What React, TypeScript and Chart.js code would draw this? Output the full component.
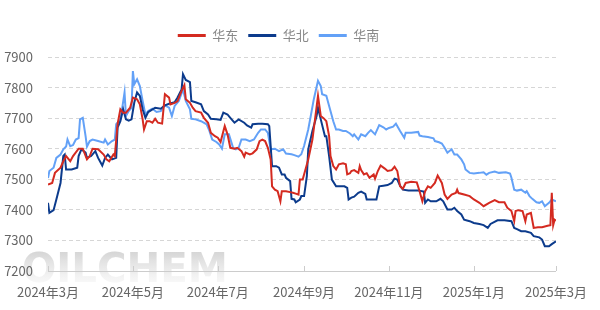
import React, { useEffect, useRef } from 'react';
import { Chart, registerables } from 'chart.js';

Chart.register(...registerables);

const FONT = "'Noto Sans CJK SC', 'Noto Sans', sans-serif";

// x axis: days since 2024-03-01
const tickDays = [0, 61, 122, 184, 245, 306, 365];
const tickLabels = ['2024年3月', '2024年5月', '2024年7月', '2024年9月', '2024年11月', '2025年1月', '2025年3月'];
const seriesNames = ['华东', '华北', '华南'];
const watermarkText = 'OILCHEM';

const eastDays = [
  0, 3, 5, 9, 11, 13, 16, 18, 22, 25,
  28, 30, 32, 36, 40, 42, 44, 47, 48, 50,
  52, 54, 56, 59, 61, 64, 66, 68, 69, 71,
  73, 75, 77, 79, 82, 84, 87, 88, 91, 93,
  96, 98, 99, 102, 104, 106, 110, 112, 115, 117,
  120, 122, 124, 127, 129, 131, 134, 136, 139, 141,
  142, 145, 147, 150, 152, 154, 156, 158, 160, 161,
  163, 165, 167, 168, 171, 174, 176, 178, 180, 181,
  183, 185, 187, 190, 192, 194, 196, 198, 200, 202,
  203, 205, 207, 209, 212, 214, 215, 217, 218, 220,
  223, 224, 225, 227, 229, 231, 234, 235, 237, 239,
  242, 244, 247, 249, 251, 253, 255, 257, 261, 265,
  267, 269, 271, 273, 275, 278, 280, 283, 285, 287,
  290, 293, 294, 295, 299, 303, 306, 310, 313, 317,
  321, 324, 328, 330, 333, 335, 336, 338, 341, 343,
  344, 347, 349, 352, 355, 359, 361, 362, 363, 364,
  365,
];
const eastValues = [
  7483, 7488, 7521, 7538, 7559, 7576, 7559, 7576, 7600, 7600,
  7565, 7576, 7600, 7598, 7581, 7565, 7559, 7581, 7576, 7680,
  7729, 7718, 7718, 7734, 7767, 7762, 7745, 7696, 7663, 7690,
  7690, 7685, 7698, 7685, 7682, 7778, 7767, 7745, 7750, 7755,
  7789, 7808, 7762, 7750, 7734, 7723, 7718, 7701, 7685, 7652,
  7641, 7636, 7622, 7674, 7647, 7603, 7600, 7603, 7592, 7574,
  7587, 7581, 7585, 7598, 7625, 7630, 7625, 7603, 7565, 7477,
  7466, 7461, 7428, 7461, 7461, 7458, 7456, 7453, 7450, 7499,
  7499, 7532, 7565, 7630, 7701, 7773, 7707, 7700, 7690, 7641,
  7576, 7543, 7532, 7549, 7552, 7549, 7516, 7520, 7527, 7530,
  7521, 7543, 7530, 7516, 7520, 7505, 7516, 7502, 7527, 7545,
  7535, 7527, 7530, 7541, 7527, 7477, 7469, 7488, 7492, 7490,
  7461, 7428, 7461, 7477, 7472, 7488, 7512, 7488, 7450, 7436,
  7450, 7455, 7466, 7455, 7450, 7445, 7434, 7423, 7412, 7423,
  7432, 7425, 7425, 7407, 7396, 7363, 7396, 7399, 7396, 7363,
  7385, 7390, 7341, 7343, 7343, 7348, 7350, 7456, 7350, 7368,
  7365,
];

const northDays = [
  0, 1, 4, 6, 9, 11, 12, 13, 17, 21,
  22, 24, 27, 28, 31, 34, 36, 39, 41, 43,
  46, 49, 50, 52, 54, 56, 58, 60, 62, 64,
  66, 68, 70, 72, 77, 81, 84, 87, 91, 93,
  96, 97, 99, 102, 103, 106, 110, 112, 115, 117,
  121, 124, 126, 129, 131, 134, 137, 141, 143, 146,
  147, 151, 154, 158, 159, 161, 164, 166, 168, 170,
  171, 174, 175, 177, 178, 181, 182, 184, 186, 187,
  190, 193, 194, 196, 199, 200, 202, 204, 207, 209,
  213, 215, 216, 218, 220, 223, 225, 228, 229, 232,
  236, 238, 241, 244, 247, 249, 251, 253, 255, 259,
  262, 266, 270, 271, 273, 275, 279, 282, 284, 287,
  290, 292, 294, 297, 299, 303, 306, 310, 313, 316,
  318, 323, 328, 333, 335, 337, 340, 343, 347, 349,
  353, 355, 357, 360, 362, 365,
];
const northValues = [
  7423, 7390, 7399, 7434, 7488, 7576, 7581, 7532, 7532, 7538,
  7576, 7598, 7587, 7570, 7576, 7592, 7570, 7545, 7570, 7581,
  7565, 7570, 7669, 7690, 7729, 7696, 7692, 7696, 7751, 7784,
  7773, 7729, 7701, 7720, 7734, 7731, 7742, 7747, 7752, 7767,
  7794, 7844, 7825, 7818, 7756, 7752, 7745, 7723, 7712, 7698,
  7696, 7694, 7718, 7712, 7701, 7685, 7696, 7685, 7676, 7669,
  7680, 7682, 7682, 7680, 7674, 7543, 7543, 7538, 7516, 7516,
  7505, 7494, 7436, 7434, 7425, 7434, 7445, 7445, 7510, 7598,
  7658, 7707, 7734, 7696, 7641, 7641, 7576, 7499, 7477, 7477,
  7477, 7472, 7434, 7440, 7443, 7456, 7460, 7452, 7434, 7434,
  7434, 7477, 7479, 7481, 7488, 7502, 7499, 7479, 7466, 7463,
  7463, 7463, 7460, 7423, 7434, 7428, 7428, 7436, 7428, 7401,
  7401, 7407, 7396, 7385, 7368, 7363, 7357, 7354, 7350, 7341,
  7354, 7366, 7366, 7363, 7341, 7337, 7330, 7330, 7325, 7314,
  7310, 7303, 7281, 7281, 7288, 7297,
];

const southDays = [
  0, 1, 4, 6, 9, 11, 13, 14, 16, 18,
  20, 22, 23, 25, 27, 28, 30, 32, 36, 40,
  41, 43, 46, 48, 49, 52, 53, 55, 56, 58,
  60, 61, 62, 64, 66, 68, 70, 72, 75, 78,
  81, 84, 87, 89, 91, 94, 97, 99, 102, 103,
  106, 110, 114, 116, 118, 121, 123, 125, 127, 130,
  133, 135, 137, 139, 142, 145, 148, 151, 153, 156,
  158, 160, 163, 166, 169, 171, 175, 177, 180, 182,
  184, 187, 189, 191, 194, 196, 197, 200, 202, 205,
  207, 209, 212, 214, 217, 219, 220, 223, 225, 228,
  230, 232, 235, 238, 241, 243, 245, 248, 250, 253,
  256, 257, 261, 266, 267, 269, 273, 277, 278, 281,
  283, 285, 287, 290, 292, 294, 297, 299, 300, 303,
  306, 310, 313, 315, 317, 321, 324, 329, 332, 333,
  335, 337, 340, 343, 344, 346, 348, 351, 353, 355,
  357, 360, 362, 365,
];
const southValues = [
  7504, 7527, 7538, 7570, 7581, 7598, 7607, 7630, 7608, 7612,
  7630, 7635, 7696, 7701, 7641, 7607, 7625, 7630, 7625, 7620,
  7630, 7614, 7625, 7630, 7680, 7696, 7723, 7784, 7707, 7723,
  7734, 7854, 7811, 7827, 7805, 7756, 7712, 7723, 7731, 7720,
  7723, 7742, 7734, 7707, 7740, 7756, 7794, 7756, 7729, 7698,
  7696, 7690, 7680, 7658, 7630, 7622, 7614, 7600, 7647, 7647,
  7603, 7598, 7603, 7630, 7630, 7625, 7630, 7652, 7663, 7663,
  7652, 7598, 7600, 7592, 7598, 7584, 7582, 7579, 7574, 7582,
  7609, 7663, 7712, 7762, 7822, 7805, 7778, 7773, 7740, 7690,
  7663, 7663, 7658, 7658, 7650, 7641, 7647, 7630, 7647, 7641,
  7652, 7661, 7647, 7677, 7670, 7663, 7668, 7672, 7682, 7658,
  7636, 7652, 7652, 7655, 7643, 7641, 7638, 7634, 7625, 7621,
  7617, 7603, 7587, 7598, 7581, 7581, 7565, 7549, 7532, 7521,
  7519, 7521, 7523, 7515, 7521, 7525, 7521, 7523, 7519, 7505,
  7466, 7463, 7466, 7456, 7461, 7445, 7436, 7425, 7423, 7428,
  7412, 7423, 7434, 7428,
];

const toPoints = (days: number[], vals: number[]) =>
  days.map((d, i) => ({ x: d, y: vals[i] }));

export default function App() {
  const ref = useRef<HTMLCanvasElement>(null);

  useEffect(() => {
    document.body.style.margin = '0';
    const canvas = ref.current;
    if (!canvas) return;

    const watermark = {
      id: 'watermark',
      beforeDraw(chart: any) {
        const c = chart.ctx;
        c.save();
        c.font = "bold 41px 'DejaVu Sans'";
        const w = c.measureText(watermarkText).width;
        c.translate(22, 282);
        c.scale(206 / w, 1);
        const g = c.createLinearGradient(0, -31, 0, 0);
        g.addColorStop(0, 'rgba(205,205,205,0.85)');
        g.addColorStop(1, 'rgba(242,242,242,0.6)');
        c.fillStyle = g;
        c.textBaseline = 'alphabetic';
        c.fillText(watermarkText, 0, 0);
        c.restore();
      },
    };

    const upTicks = {
      id: 'upTicks',
      afterLayout(chart: any) {
        const l = chart.legend;
        if (l) {
          l.top -= 5;
          l.bottom -= 5;
        }
      },
      afterDraw(chart: any) {
        const xs = chart.scales.x;
        const c = chart.ctx;
        const b = chart.chartArea.bottom;
        c.save();
        c.strokeStyle = '#cccccc';
        c.lineWidth = 1;
        tickDays.forEach((d) => {
          const px = Math.round(xs.getPixelForValue(d)) + 0.5;
          c.beginPath();
          c.moveTo(px, b);
          c.lineTo(px, b - 5);
          c.stroke();
        });
        c.restore();
      },
    };

    const colors = ['#d42a20', '#0c3b8c', '#63a1f7'];
    const chart = new Chart(canvas, {
      type: 'line',
      data: {
        datasets: [
          { label: seriesNames[0], data: toPoints(eastDays, eastValues) },
          { label: seriesNames[1], data: toPoints(northDays, northValues) },
          { label: seriesNames[2], data: toPoints(southDays, southValues) },
        ].map((d, i) => ({
          ...d,
          borderColor: colors[i],
          backgroundColor: colors[i],
          borderWidth: 2,
          pointRadius: 0,
          tension: 0,
          fill: false,
        })),
      },
      options: {
        responsive: false,
        animation: false,
        devicePixelRatio: 1,
        layout: { padding: { top: 24, right: 43, bottom: 0, left: 0 } },
        plugins: {
          tooltip: { enabled: false },
          legend: {
            position: 'top',
            labels: {
              boxWidth: 28,
              boxHeight: 3,
              padding: 10,
              color: '#888888',
              font: { family: FONT, size: 13 },
              generateLabels: (ch: any) =>
                Chart.defaults.plugins.legend.labels
                  .generateLabels(ch)
                  .map((l: any) => ({ ...l, lineWidth: 0 })),
            },
          },
        },
        scales: {
          x: {
            type: 'linear',
            min: 0,
            max: 365,
            afterBuildTicks: (s: any) => {
              s.ticks = tickDays.map((v) => ({ value: v }));
            },
            afterFit: (s: any) => {
              s.height = 39;
            },
            ticks: {
              autoSkip: false,
              maxRotation: 0,
              padding: 13,
              color: '#666666',
              font: { family: FONT, size: 13 },
              callback: (v: any) => {
                const i = tickDays.indexOf(Number(v));
                return i >= 0 ? tickLabels[i] : '';
              },
            },
            grid: { display: false, drawTicks: false },
            border: { display: true, color: '#cccccc', width: 1 },
          },
          y: {
            min: 7200,
            max: 7900,
            afterFit: (s: any) => {
              s.width = 48;
            },
            ticks: {
              stepSize: 100,
              padding: 15,
              color: '#666666',
              font: { family: FONT, size: 13 },
              callback: (v: any) => String(v),
            },
            grid: {
              drawTicks: false,
              color: (ctx: any) =>
                ctx.tick && ctx.tick.value === 7200 ? 'rgba(0,0,0,0)' : '#d6d6d6',
            },
            border: { display: false, dash: [4, 3] },
          },
        },
      },
      plugins: [watermark, upTicks],
    } as any);

    return () => chart.destroy();
  }, []);

  return (
    <div style={{ width: 600, height: 310 }}>
      <canvas ref={ref} width={600} height={310} style={{ display: 'block' }} />
    </div>
  );
}
